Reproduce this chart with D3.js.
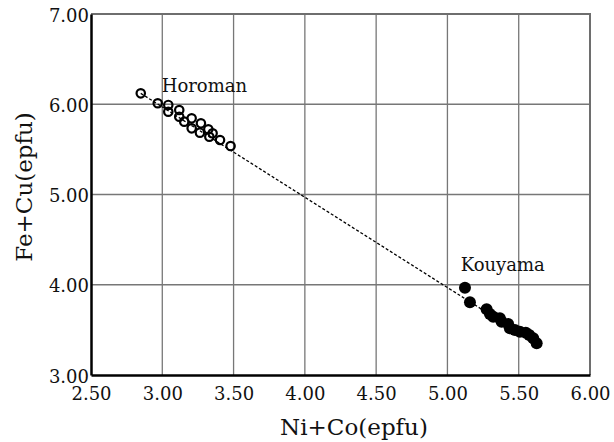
<!DOCTYPE html>
<html>
<head>
<meta charset="utf-8">
<script src="https://cdn.jsdelivr.net/npm/d3@7"></script>
<style>
  body { margin: 0; background: #fff; }
  text { font-family: "DejaVu Serif", serif; fill: #111; }
</style>
</head>
<body>
<svg id="chart"></svg>
<script>
// Horoman (open circles), Kouyama (filled circles): [Ni+Co, Fe+Cu]
const horoman = [
  [2.849, 6.121], [2.968, 6.011], [3.042, 5.992], [3.042, 5.917],
  [3.119, 5.936], [3.119, 5.862], [3.154, 5.807], [3.206, 5.844],
  [3.206, 5.733], [3.271, 5.789], [3.264, 5.685], [3.323, 5.722],
  [3.330, 5.640], [3.353, 5.678], [3.405, 5.604], [3.479, 5.537]
];
const kouyama = [
  [5.123, 3.967], [5.158, 3.806], [5.275, 3.728], [5.298, 3.676],
  [5.321, 3.646], [5.368, 3.628], [5.380, 3.591], [5.426, 3.565],
  [5.438, 3.517], [5.473, 3.499], [5.508, 3.480], [5.550, 3.469],
  [5.574, 3.443], [5.602, 3.407], [5.626, 3.351]
];
const trend = [[2.849, 6.121], [5.629, 3.340]];
const xTicks = [2.5, 3.0, 3.5, 4.0, 4.5, 5.0, 5.5, 6.0];
const yTicks = [3.0, 4.0, 5.0, 6.0, 7.0];

const width = 614, height = 442;
const margin = { top: 14, right: 24, bottom: 67, left: 91 };
const innerW = width - margin.left - margin.right;
const innerH = height - margin.top - margin.bottom;

const svg = d3.select('#chart')
  .attr('width', width)
  .attr('height', height);

const chart = svg.append('g')
  .attr('transform', `translate(${margin.left}, ${margin.top})`);

const xscale = d3.scaleLinear().domain([2.5, 6.0]).range([0, innerW]);
const yscale = d3.scaleLinear().domain([3.0, 7.0]).range([innerH, 0]);

// grid
chart.append('g')
  .selectAll('line')
  .data(xTicks.slice(1, -1))
  .join('line')
  .attr('x1', d => xscale(d)).attr('x2', d => xscale(d))
  .attr('y1', 0).attr('y2', innerH)
  .attr('stroke', '#777').attr('stroke-width', 1.3);

chart.append('g')
  .selectAll('line')
  .data(yTicks.slice(1, -1))
  .join('line')
  .attr('x1', 0).attr('x2', innerW)
  .attr('y1', d => yscale(d)).attr('y2', d => yscale(d))
  .attr('stroke', '#777').attr('stroke-width', 1.3);

// top / right frame
chart.append('path')
  .attr('d', `M0,0H${innerW}V${innerH}`)
  .attr('fill', 'none')
  .attr('stroke', '#6e6e6e')
  .attr('stroke-width', 2);

// axes
const xaxis = d3.axisBottom(xscale).tickValues(xTicks).tickSize(0).tickPadding(12)
  .tickFormat(d3.format('.2f'));
const yaxis = d3.axisLeft(yscale).tickValues(yTicks).tickSize(0).tickPadding(2)
  .tickFormat(d3.format('.2f'));

const xg = chart.append('g')
  .attr('transform', `translate(0, ${innerH})`)
  .call(xaxis);
const yg = chart.append('g').call(yaxis);

[xg, yg].forEach(g => {
  g.select('.domain').attr('stroke', '#000').attr('stroke-width', 2.5);
  g.selectAll('text')
    .style('font-family', '"DejaVu Serif", serif')
    .style('font-size', '18px')
    .attr('fill', '#111');
});
xg.selectAll('text').attr('dy', '0.7em');
yg.selectAll('text').attr('dy', '0.4em');

// trend line
chart.append('path')
  .datum(trend)
  .attr('d', d3.line().x(d => xscale(d[0])).y(d => yscale(d[1])))
  .attr('fill', 'none')
  .attr('stroke', '#000')
  .attr('stroke-width', 1.3)
  .attr('stroke-dasharray', '3,2');

// points
chart.append('g')
  .selectAll('circle')
  .data(horoman)
  .join('circle')
  .attr('cx', d => xscale(d[0]))
  .attr('cy', d => yscale(d[1]))
  .attr('r', 4.2)
  .attr('fill', 'none')
  .attr('stroke', '#000')
  .attr('stroke-width', 2.2);

chart.append('g')
  .selectAll('circle')
  .data(kouyama)
  .join('circle')
  .attr('cx', d => xscale(d[0]))
  .attr('cy', d => yscale(d[1]))
  .attr('r', 6)
  .attr('fill', '#000');

// group labels
chart.append('text')
  .attr('x', xscale(2.996)).attr('y', yscale(6.139))
  .style('font-size', '18px')
  .text('Horoman');

chart.append('text')
  .attr('x', xscale(5.093)).attr('y', yscale(4.156))
  .style('font-size', '18px')
  .text('Kouyama');

// axis titles
svg.append('text')
  .attr('x', 354)
  .attr('y', 435)
  .attr('text-anchor', 'middle')
  .style('font-size', '23px')
  .text('Ni+Co(epfu)');

svg.append('text')
  .attr('transform', 'rotate(-90)')
  .attr('x', -187)
  .attr('y', 32)
  .attr('text-anchor', 'middle')
  .style('font-size', '23px')
  .text('Fe+Cu(epfu)');
</script>
</body>
</html>
